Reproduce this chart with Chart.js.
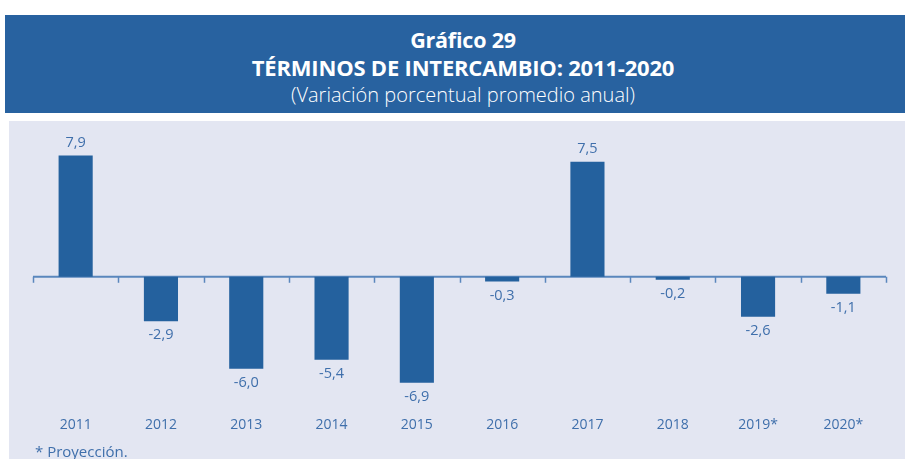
<!DOCTYPE html>
<html>
<head>
<meta charset="utf-8">
<script src="https://cdn.jsdelivr.net/npm/chart.js@4/dist/chart.umd.min.js"></script>
<style>
  html, body { margin:0; padding:0; background:#ffffff; width:905px; height:459px; overflow:hidden; }
  #header { position:absolute; left:5px; top:15px; width:900px; height:98px; background:#2862a0; color:#ffffff; font-family:"Open Sans", sans-serif; text-align:center; }
  #header .t1 { position:absolute; left:16px; right:0; top:12px; font-size:21.5px; font-weight:bold; line-height:26px; letter-spacing:-0.2px; }
  #header .t2 { position:absolute; left:16px; right:0; top:39px; font-size:22px; font-weight:bold; line-height:26px; letter-spacing:-0.2px; }
  #header .t3 { position:absolute; left:16px; right:0; top:67px; font-size:20px; font-weight:300; line-height:26px; }
  #panel { position:absolute; left:9px; top:121px; width:896px; height:338px; background:#e3e6f2; }
  #wrap { position:absolute; left:0; top:0; width:896px; height:338px; }
  #note { position:absolute; left:26px; top:321px; font-family:"Open Sans", sans-serif; font-size:15px; color:#3f6fab; line-height:18px; }
</style>
</head>
<body>
<div id="header">
  <div class="t1">Gráfico 29</div>
  <div class="t2">TÉRMINOS DE INTERCAMBIO: 2011-2020</div>
  <div class="t3">(Variación porcentual promedio anual)</div>
</div>
<div id="panel">
  <div id="wrap"><canvas id="c"></canvas></div>
  <div id="note">* Proyección.</div>
</div>
<script>
const categories = ["2011","2012","2013","2014","2015","2016","2017","2018","2019*","2020*"];
const values = [7.9, -2.9, -6.0, -5.4, -6.9, -0.3, 7.5, -0.2, -2.6, -1.1];
const valueLabels = ["7,9","-2,9","-6,0","-5,4","-6,9","-0,3","7,5","-0,2","-2,6","-1,1"];

const axisPlugin = {
  id: 'zeroAxis',
  beforeDatasetsDraw(chart) {
    const {ctx, scales:{x, y}, chartArea} = chart;
    const y0 = y.getPixelForValue(0);
    ctx.save();
    ctx.strokeStyle = '#5a87bd';
    ctx.lineWidth = 2;
    ctx.beginPath();
    ctx.moveTo(chartArea.left, y0);
    ctx.lineTo(chartArea.right, y0);
    ctx.stroke();
    const step = (chartArea.right - chartArea.left) / categories.length;
    ctx.lineWidth = 1.5;
    for (let i = 0; i <= categories.length; i++) {
      const px = Math.round(chartArea.left + i * step) + 0.5;
      ctx.beginPath();
      ctx.moveTo(px, y0);
      ctx.lineTo(px, y0 + 6);
      ctx.stroke();
    }
    ctx.restore();
  }
};

const labelPlugin = {
  id: 'valueLabels',
  afterDatasetsDraw(chart) {
    const {ctx} = chart;
    const meta = chart.getDatasetMeta(0);
    ctx.save();
    ctx.font = '14.5px "Open Sans", sans-serif';
    ctx.fillStyle = '#3f6fab';
    ctx.textAlign = 'center';
    ctx.textBaseline = 'middle';
    meta.data.forEach((bar, i) => {
      const v = values[i];
      const yy = v >= 0 ? bar.y - 13 : bar.y + 14;
      ctx.fillText(valueLabels[i], bar.x, yy);
    });
    ctx.restore();
  }
};

new Chart(document.getElementById('c'), {
  type: 'bar',
  data: {
    labels: categories,
    datasets: [{
      data: values,
      backgroundColor: '#24619e',
      borderWidth: 0,
      barPercentage: 0.4,
      categoryPercentage: 1.0
    }]
  },
  options: {
    responsive: true,
    maintainAspectRatio: false,
    animation: false,
    layout: { padding: { left: 24, right: 19, top: 10, bottom: 17 } },
    plugins: { legend: { display: false }, tooltip: { enabled: false } },
    scales: {
      x: {
        grid: { display: false, drawTicks: false },
        border: { display: false },
        ticks: { color: '#3f6fab', font: { family: '"Open Sans", sans-serif', size: 14 }, padding: 9, maxRotation: 0 }
      },
      y: {
        display: false,
        min: -8.5,
        max: 9.5
      }
    }
  },
  plugins: [axisPlugin, labelPlugin]
});
</script>
</body>
</html>
